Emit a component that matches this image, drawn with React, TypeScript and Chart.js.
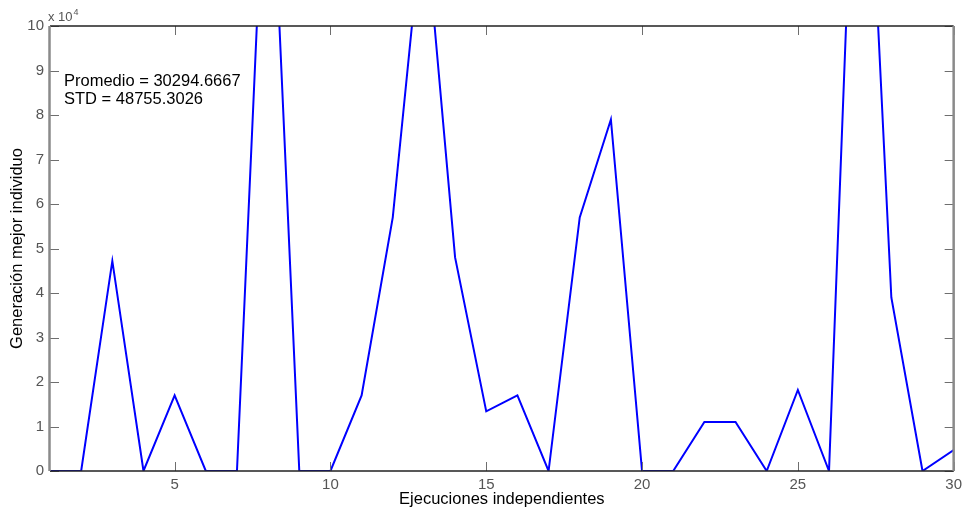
import React, { useEffect, useRef } from "react";
import { Chart, registerables } from "chart.js";

Chart.register(...registerables);

// Independent runs (x) and generation of best individual (y)
const runs = [1, 2, 3, 4, 5, 6, 7, 8, 9, 10, 11, 12, 13, 14, 15, 16, 17, 18, 19, 20, 21, 22, 23, 24, 25, 26, 27, 28, 29, 30];
const generation = [
  0, 0, 47200, 0, 17000, 0, 0, 157000, 0, 0,
  17000, 57000, 127000, 48000, 13400, 17000, 0, 57000, 79000, 0,
  0, 11000, 11000, 0, 18200, 0, 183000, 39000, 0, 4700,
];
const xTicks = [5, 10, 15, 20, 25, 30];
const yTicks = [0, 10000, 20000, 30000, 40000, 50000, 60000, 70000, 80000, 90000, 100000];
const statsLines = ["Promedio = 30294.6667", "STD = 48755.3026"];
const xTitle = "Ejecuciones independientes";
const yTitle = "Generación mejor individuo";

const FONT = "'Liberation Sans', Arial, Helvetica, sans-serif";

const matlabPlugin = {
  id: "matlabFrame",
  afterDatasetsDraw(chart: any) {
    const { ctx, chartArea: a, scales } = chart;
    const xs = scales.x;
    const ys = scales.y;
    ctx.save();
    // ticks (inward, on all four sides)
    ctx.strokeStyle = "#6e6e6e";
    ctx.lineWidth = 1;
    const tl = 9;
    xTicks.forEach((v) => {
      const px = Math.round(xs.getPixelForValue(v)) + 0.5;
      ctx.beginPath();
      ctx.moveTo(px, a.bottom);
      ctx.lineTo(px, a.bottom - tl);
      ctx.moveTo(px, a.top);
      ctx.lineTo(px, a.top + tl);
      ctx.stroke();
    });
    yTicks.forEach((v) => {
      const py = Math.round(ys.getPixelForValue(v)) + 0.5;
      ctx.beginPath();
      ctx.moveTo(a.left, py);
      ctx.lineTo(a.left + tl, py);
      ctx.moveTo(a.right, py);
      ctx.lineTo(a.right - tl, py);
      ctx.stroke();
    });
    // frame
    ctx.strokeStyle = "#222";
    ctx.lineWidth = 1.5;
    ctx.beginPath();
    ctx.moveTo(a.left, a.top);
    ctx.lineTo(a.right, a.top);
    ctx.moveTo(a.left, a.bottom);
    ctx.lineTo(a.right, a.bottom);
    ctx.stroke();
    ctx.strokeStyle = "#8a8a8a";
    ctx.lineWidth = 2.5;
    ctx.beginPath();
    ctx.moveTo(a.left - 0.5, a.top);
    ctx.lineTo(a.left - 0.5, a.bottom);
    ctx.moveTo(a.right, a.top);
    ctx.lineTo(a.right, a.bottom);
    ctx.stroke();

    // exponent label
    ctx.fillStyle = "#555";
    ctx.textAlign = "left";
    ctx.textBaseline = "alphabetic";
    ctx.font = `13px ${FONT}`;
    ctx.fillText("x 10", a.left - 2, a.top - 5);
    const w = ctx.measureText("x 10").width;
    ctx.font = `9px ${FONT}`;
    ctx.fillText("4", a.left - 2 + w + 1, a.top - 11);

    // stats annotation
    ctx.fillStyle = "#000";
    ctx.font = `16.5px ${FONT}`;
    ctx.textBaseline = "middle";
    const sx = xs.getPixelForValue(1.45);
    ctx.fillText(statsLines[0], sx, ys.getPixelForValue(87600));
    ctx.fillText(statsLines[1], sx, ys.getPixelForValue(83500));

    // axis titles
    ctx.textAlign = "center";
    ctx.fillText(xTitle, (a.left + a.right) / 2, a.bottom + 28);
    ctx.translate(17, (a.top + a.bottom) / 2);
    ctx.rotate(-Math.PI / 2);
    ctx.fillText(yTitle, 0, 0);
    ctx.restore();
  },
};

export default function App() {
  const ref = useRef<HTMLCanvasElement | null>(null);
  useEffect(() => {
    if (!ref.current) return;
    const chart = new Chart(ref.current, {
      type: "line",
      data: {
        datasets: [
          {
            data: runs.map((r, i) => ({ x: r, y: generation[i] })),
            borderColor: "#0000ff",
            borderWidth: 2,
            pointRadius: 0,
            tension: 0,
            fill: false,
          },
        ],
      },
      options: {
        animation: false,
        responsive: false,
        devicePixelRatio: 1,
        events: [],
        layout: { padding: { left: 0, right: 11, top: 26, bottom: 0 } },
        plugins: { legend: { display: false }, tooltip: { enabled: false } },
        scales: {
          x: {
            type: "linear",
            min: 1,
            max: 30,
            grid: { display: false, drawTicks: false },
            border: { display: false },
            afterBuildTicks: (s: any) => {
              s.ticks = xTicks.map((v) => ({ value: v }));
            },
            afterFit: (s: any) => {
              s.height = 43;
            },
            ticks: {
              padding: 5,
              color: "#555",
              font: { family: FONT, size: 15 },
              maxRotation: 0,
              autoSkip: false,
              callback: (v: any) => String(v),
            },
          },
          y: {
            type: "linear",
            min: 0,
            max: 100000,
            grid: { display: false, drawTicks: false },
            border: { display: false },
            afterBuildTicks: (s: any) => {
              s.ticks = yTicks.map((v) => ({ value: v }));
            },
            afterFit: (s: any) => {
              s.width = 50;
            },
            ticks: {
              padding: 6,
              color: "#555",
              font: { family: FONT, size: 15 },
              callback: (v: any) => String(Number(v) / 10000),
            },
          },
        },
      },
      plugins: [matlabPlugin],
    });
    return () => chart.destroy();
  }, []);
  return (
    <div style={{ position: "absolute", left: 0, top: 0, width: 967, height: 514, background: "#fff" }}>
      <canvas ref={ref} width={967} height={514} style={{ display: "block" }} />
    </div>
  );
}
